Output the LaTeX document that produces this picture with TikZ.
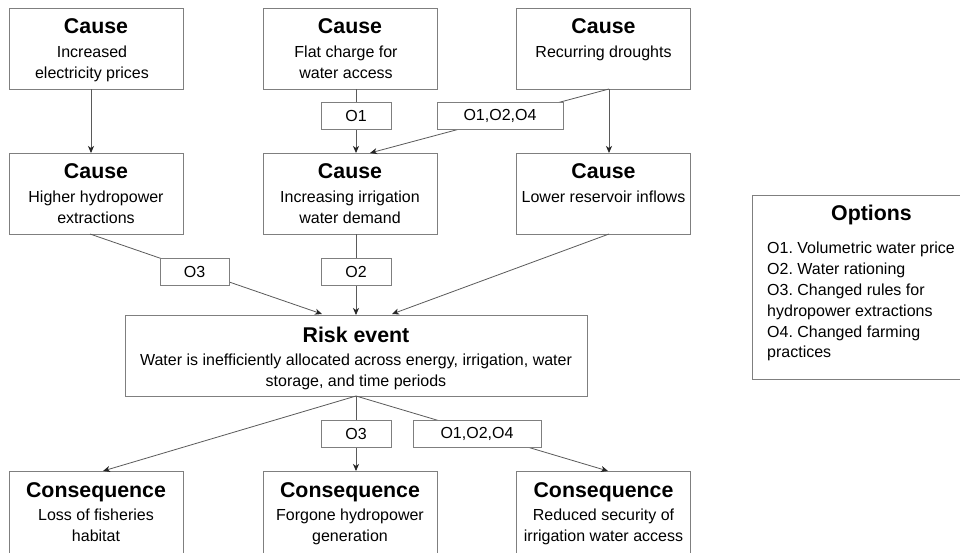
\documentclass[tikz,border=0pt]{standalone}
\usepackage{fontspec}
\setmainfont{Liberation Sans}
\usetikzlibrary{arrows.meta,calc}
\definecolor{boxgray}{HTML}{7F7F7F}
\definecolor{linegray}{HTML}{5A5A5A}
\frenchspacing
\begin{document}
\begin{tikzpicture}[x=1pt,y=-1pt,
  box/.style={draw=boxgray, line width=0.9pt, minimum width=174pt, minimum height=81pt, inner sep=0pt, outer sep=0pt},
  lbl/.style={draw=boxgray, fill=white, line width=0.9pt, minimum height=27pt, inner sep=0pt, font=\fontsize{16}{19}\selectfont},
  ttl/.style={anchor=base, inner sep=0pt, font=\fontsize{21.33}{25}\selectfont\bfseries},
  bod/.style={anchor=base, inner sep=0pt, font=\fontsize{16}{21}\selectfont},
  opt/.style={anchor=base west, inner sep=0pt, font=\fontsize{16}{21}\selectfont},
  conn/.style={draw=linegray, line width=0.8pt},
  arr/.style={conn, -{Stealth[length=7pt,width=6pt,inset=2pt,color=black!85]}}
]
\clip (0,0) rectangle (960,552);
\fill[white] (0,0) rectangle (960,552);

% boxes
\node[box] (c1) at (96,48.5) {};
\node[box] (c2) at (350,48.5) {};
\node[box] (c3) at (603.5,48.5) {};
\node[box] (c4) at (96,193.5) {};
\node[box] (c5) at (350,193.5) {};
\node[box] (c6) at (603.5,193.5) {};
\node[box, minimum width=462pt] (risk) at (356,355.5) {};
\node[box, minimum height=95pt] (k1) at (96,518.5) {};
\node[box, minimum height=95pt] (k2) at (350,518.5) {};
\node[box, minimum height=95pt] (k3) at (603.5,518.5) {};
\node[box, minimum width=239pt, minimum height=184pt] (opts) at (871.5,287) {};

% texts
\node[ttl] (c1t) at ($(c1.north)+(0,25)$) {Cause};
\node[bod] (c1a) at ($(c1.north)+(-4,49)$) {Increased};
\node[bod] (c1b) at ($(c1.north)+(-4,70)$) {electricity prices};
\node[ttl] (c2t) at ($(c2.north)+(0,25)$) {Cause};
\node[bod] (c2a) at ($(c2.north)+(-4,49)$) {Flat charge for};
\node[bod] (c2b) at ($(c2.north)+(-4,70)$) {water access};
\node[ttl] (c3t) at ($(c3.north)+(0,25)$) {Cause};
\node[bod] (c3a) at ($(c3.north)+(0,49)$) {Recurring droughts};

\node[ttl] (c4t) at ($(c4.north)+(0,25)$) {Cause};
\node[bod] (c4a) at ($(c4.north)+(0,49)$) {Higher hydropower};
\node[bod] (c4b) at ($(c4.north)+(0,70)$) {extractions};
\node[ttl] (c5t) at ($(c5.north)+(0,25)$) {Cause};
\node[bod] (c5a) at ($(c5.north)+(0,49)$) {Increasing irrigation};
\node[bod] (c5b) at ($(c5.north)+(0,70)$) {water demand};
\node[ttl] (c6t) at ($(c6.north)+(0,25)$) {Cause};
\node[bod] (c6a) at ($(c6.north)+(0,49)$) {Lower reservoir inflows};

\node[ttl] (rt) at ($(risk.north)+(0,27)$) {Risk event};
\node[bod] (ra) at ($(risk.north)+(0,50)$) {Water is inefficiently allocated across energy, irrigation, water};
\node[bod] (rb) at ($(risk.north)+(0,71)$) {storage, and time periods};

\node[ttl] (k1t) at ($(k1.north)+(0,26)$) {Consequence};
\node[bod] (k1a) at ($(k1.north)+(0,49)$) {Loss of fisheries};
\node[bod] (k1b) at ($(k1.north)+(0,70)$) {habitat};
\node[ttl] (k2t) at ($(k2.north)+(0,26)$) {Consequence};
\node[bod] (k2a) at ($(k2.north)+(0,49)$) {Forgone hydropower};
\node[bod] (k2b) at ($(k2.north)+(0,70)$) {generation};
\node[ttl] (k3t) at ($(k3.north)+(0,26)$) {Consequence};
\node[bod] (k3a) at ($(k3.north)+(0,49)$) {Reduced security of};
\node[bod] (k3b) at ($(k3.north)+(0,70)$) {irrigation water access};

\node[ttl] (ot) at (871.5,220) {Options};
\node[opt] (o1) at (767,253) {O1. Volumetric water price};
\node[opt] (o2) at (767,274) {O2. Water rationing};
\node[opt] (o3) at (767,295) {O3. Changed rules for};
\node[opt] (o3b) at (767,316) {hydropower extractions};
\node[opt] (o4) at (767,337) {O4. Changed farming};
\node[opt] (o4b) at (767,357) {practices};

% connectors
\draw[arr] ($(c1.south)+(-5,0)$) -- ($(c4.north)+(-5,0)$);
\draw[arr] ($(c2.south)+(6,0)$) -- ($(c5.north)+(6,0)$);
\draw[arr] ($(c3.south)+(5.5,0)$) -- ($(c6.north)+(5.5,0)$);
\draw[arr] ($(c3.south)+(5.5,0)$) -- ($(c5.north)+(20,0)$);
\draw[arr] ($(c4.south)+(-6,0)$) -- ($(risk.north)+(-34,-1)$);
\draw[arr] ($(c5.south)+(6,0)$) -- (risk.north);
\draw[arr] ($(c6.south)+(5.5,0)$) -- ($(risk.north)+(36,-1)$);
\draw[arr] (risk.south) -- ($(k1.north)+(7,0)$);
\draw[arr] (risk.south) -- ($(k2.north)+(6,0)$);
\draw[arr] (risk.south) -- ($(k3.north)+(4.5,0)$);

% option labels on connectors
\node[lbl, minimum width=70pt] (l1) at (356,115.5) {O1};
\node[lbl, minimum width=126pt] (l2) at (500,115.5) {O1,O2,O4};
\node[lbl, minimum width=69pt] (l3) at (194.5,271.5) {O3};
\node[lbl, minimum width=70pt] (l4) at (356,271.5) {O2};
\node[lbl, minimum width=70pt] (l5) at (356,433.5) {O3};
\node[lbl, minimum width=128pt] (l6) at (477,433.5) {O1,O2,O4};
\end{tikzpicture}
\end{document}
